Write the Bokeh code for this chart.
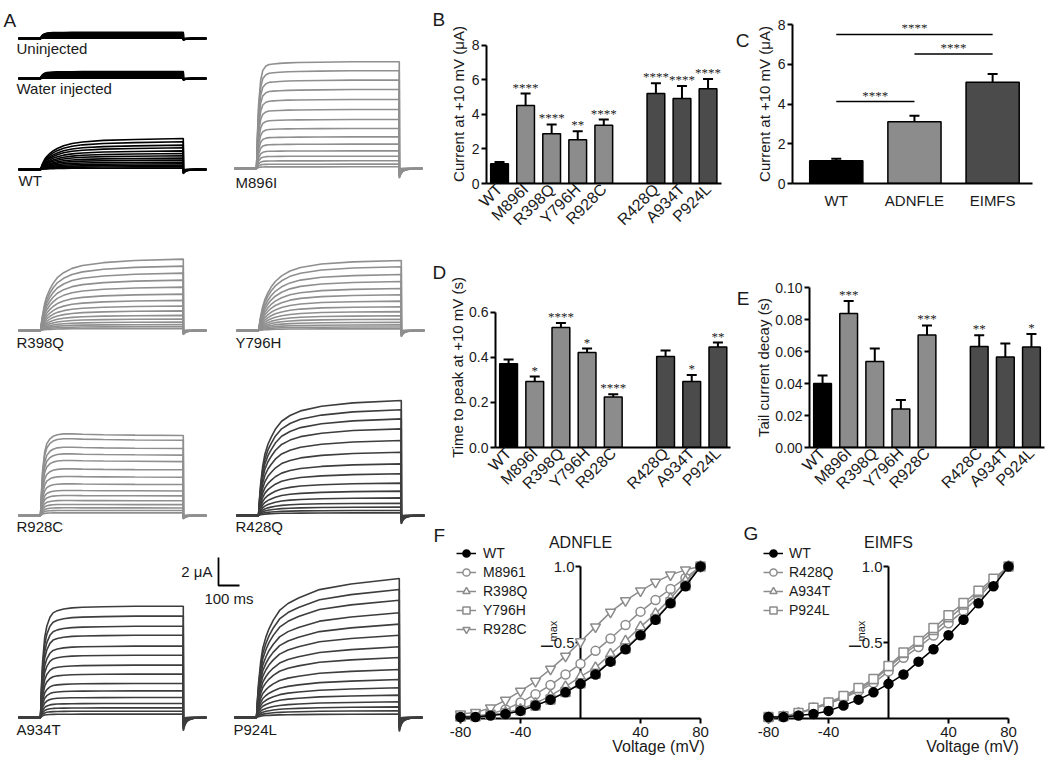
import math
from bokeh.plotting import figure
from bokeh.layouts import row, column
from bokeh.models import (Range1d, FixedTicker, PrintfTickFormatter, Whisker, TeeHead,
                          LabelSet, ColumnDataSource, Legend, LegendItem)
from bokeh.core.properties import value
from bokeh.embed import file_html
from bokeh.resources import INLINE

FONT = "Liberation Sans"

# ------------------------------------------------------------------ data
# Panel A: voltage-clamp current families
act_t_ms = [0, 5, 10, 20, 30, 45, 60, 80, 110, 150, 200, 300, 450, 680]
tail_t_ms = [0, 3, 8, 15, 25, 40, 60, 110]
tail_shape = [1.0, 0.8, 0.55, 0.35, 0.2, 0.1, 0.04, 0.0]

act_uninj = [0, 0.35, 0.55, 0.75, 0.85, 0.9, 0.93, 0.95, 0.96, 0.97, 0.98, 0.99, 1.0, 1.0]
act_water = [0, 0.35, 0.55, 0.75, 0.85, 0.9, 0.93, 0.95, 0.96, 0.97, 0.98, 0.99, 1.0, 1.0]
act_WT = [0, 0.10, 0.19, 0.33, 0.42, 0.52, 0.60, 0.68, 0.77, 0.84, 0.89, 0.94, 0.97, 1.0]
act_M896I = [0, 0.35, 0.60, 0.83, 0.92, 0.96, 0.975, 0.98, 0.985, 0.99, 0.993, 0.996, 1.0, 1.0]
act_R398Q = [0, 0.12, 0.22, 0.38, 0.48, 0.58, 0.66, 0.74, 0.81, 0.87, 0.91, 0.95, 0.98, 1.0]
act_Y796H = [0, 0.10, 0.20, 0.34, 0.44, 0.54, 0.62, 0.70, 0.78, 0.85, 0.90, 0.95, 0.98, 1.0]
act_R928C = [0, 0.30, 0.55, 0.78, 0.88, 0.94, 0.97, 0.99, 1.0, 1.0, 0.995, 0.99, 0.985, 0.98]
act_R428Q = [0, 0.15, 0.27, 0.43, 0.53, 0.62, 0.68, 0.75, 0.82, 0.87, 0.91, 0.95, 0.98, 1.0]
act_A934T = [0, 0.30, 0.50, 0.72, 0.82, 0.90, 0.94, 0.96, 0.975, 0.985, 0.99, 0.995, 1.0, 1.0]
act_P924L = [0, 0.14, 0.25, 0.40, 0.50, 0.58, 0.64, 0.70, 0.77, 0.82, 0.86, 0.92, 0.96, 1.0]

sw_uninj = [0.45, 0.41, 0.37, 0.33, 0.29, 0.25, 0.21, 0.17, 0.13, 0.09, 0.06, 0.03]
sw_water = [0.50, 0.46, 0.41, 0.37, 0.32, 0.28, 0.23, 0.19, 0.14, 0.10, 0.06, 0.03]
sw_WT = [2.21, 1.98, 1.74, 1.55, 1.33, 1.14, 0.98, 0.81, 0.67, 0.52, 0.40, 0.29, 0.19, 0.10]
sw_M896I = [7.62, 6.98, 6.31, 5.64, 4.93, 4.21, 3.50, 2.86, 2.26, 1.74, 1.26, 0.88, 0.55, 0.31, 0.12]
sw_R398Q = [5.1, 4.6, 4.1, 3.6, 3.1, 2.6, 2.15, 1.75, 1.4, 1.08, 0.82, 0.6, 0.42, 0.27, 0.14]
sw_Y796H = [5.0, 4.55, 4.0, 3.5, 3.0, 2.55, 2.1, 1.7, 1.35, 1.05, 0.8, 0.58, 0.4, 0.25, 0.12]
sw_R928C = [5.83, 5.48, 4.88, 4.40, 3.93, 3.33, 2.79, 2.26, 1.79, 1.43, 1.07, 0.79, 0.55, 0.36, 0.19]
sw_R428Q = [8.21, 7.55, 6.90, 6.19, 5.36, 4.52, 3.69, 2.98, 2.31, 1.74, 1.26, 0.88, 0.60, 0.36, 0.19]
sw_A934T = [7.95, 7.24, 6.52, 5.88, 5.10, 4.45, 3.74, 3.10, 2.43, 1.90, 1.43, 1.00, 0.69, 0.45, 0.24]
sw_P924L = [9.93, 9.14, 8.38, 7.48, 6.67, 5.88, 5.05, 4.29, 3.43, 2.71, 2.12, 1.60, 1.12, 0.76, 0.48, 0.24]

trace_names = ["Uninjected", "Water injected", "WT", "M896I", "R398Q", "Y796H",
               "R928C", "R428Q", "A934T", "P924L"]
trace_tail_uA = [0.12, 0.12, 0.3, 0.7, 0.3, 0.45, 0.25, 0.6, 0.95, 1.0]
trace_group = ["none", "none", "WT", "ADNFLE", "ADNFLE", "ADNFLE", "ADNFLE", "EIMFS", "EIMFS", "EIMFS"]
trace_act = [act_uninj, act_water, act_WT, act_M896I, act_R398Q, act_Y796H,
             act_R928C, act_R428Q, act_A934T, act_P924L]
trace_sweeps = [sw_uninj, sw_water, sw_WT, sw_M896I, sw_R398Q, sw_Y796H,
                sw_R928C, sw_R428Q, sw_A934T, sw_P924L]
scale_bar_uA = 2
scale_bar_ms = 100

# Panels B, D, E
mut_names = ["WT", "M896I", "R398Q", "Y796H", "R928C", "R428Q", "A934T", "P924L"]
mut_names_E = ["WT", "M896I", "R398Q", "Y796H", "R928C", "R428C", "A934T", "P924L"]
mut_group = ["WT", "ADNFLE", "ADNFLE", "ADNFLE", "ADNFLE", "EIMFS", "EIMFS", "EIMFS"]

B_mean = [1.15, 4.51, 2.88, 2.53, 3.38, 5.21, 4.92, 5.48]
B_sem = [0.10, 0.70, 0.54, 0.50, 0.32, 0.60, 0.72, 0.57]
B_sig = ["", "****", "****", "**", "****", "****", "****", "****"]

D_mean = [0.371, 0.292, 0.532, 0.421, 0.224, 0.403, 0.292, 0.445]
D_sem = [0.019, 0.022, 0.019, 0.017, 0.012, 0.027, 0.029, 0.020]
D_sig = ["", "*", "****", "*", "****", "", "*", "**"]

E_mean = [0.0400, 0.0837, 0.0538, 0.0240, 0.0703, 0.0632, 0.0565, 0.0628]
E_sem = [0.0050, 0.0079, 0.0080, 0.0057, 0.0060, 0.0070, 0.0085, 0.0082]
E_sig = ["", "***", "", "", "***", "**", "", "*"]

# Panel C
C_names = ["WT", "ADNFLE", "EIMFS"]
C_mean = [1.15, 3.11, 5.09]
C_sem = [0.10, 0.30, 0.42]
C_comp_a = [0, 1, 0]
C_comp_b = [1, 2, 2]
C_comp_y = [4.12, 6.52, 7.50]
C_comp_sig = ["****", "****", "****"]

# Panels F, G (normalised I-V)
V_mV = [-80, -70, -60, -50, -40, -30, -20, -10, 0, 10, 20, 30, 40, 50, 60, 70, 80]
iv_WT = [0.01, 0.01, 0.02, 0.03, 0.05, 0.085, 0.124, 0.172, 0.228, 0.29, 0.374, 0.456, 0.548, 0.65, 0.758, 0.87, 1.0]
iv_M896I = [0.01, 0.015, 0.03, 0.06, 0.105, 0.16, 0.22, 0.29, 0.36, 0.445, 0.526, 0.615, 0.703, 0.78, 0.852, 0.925, 1.0]
iv_R398Q = [0.005, 0.01, 0.02, 0.04, 0.06, 0.10, 0.15, 0.21, 0.275, 0.335, 0.423, 0.51, 0.603, 0.69, 0.79, 0.905, 1.0]
iv_Y796H = [0.015, 0.015, 0.025, 0.035, 0.055, 0.085, 0.125, 0.175, 0.232, 0.295, 0.38, 0.46, 0.555, 0.655, 0.765, 0.875, 1.0]
iv_R928C = [0.03, 0.04, 0.07, 0.12, 0.18, 0.245, 0.325, 0.41, 0.505, 0.603, 0.70, 0.775, 0.84, 0.897, 0.945, 0.978, 1.0]
iv_R428Q = [0.005, 0.01, 0.035, 0.064, 0.097, 0.134, 0.18, 0.233, 0.31, 0.40, 0.47, 0.546, 0.627, 0.708, 0.798, 0.9, 1.0]
iv_A934T = [0.005, 0.012, 0.035, 0.066, 0.10, 0.14, 0.19, 0.25, 0.335, 0.42, 0.495, 0.572, 0.655, 0.74, 0.82, 0.91, 1.0]
iv_P924L = [0.01, 0.015, 0.037, 0.07, 0.105, 0.148, 0.2, 0.26, 0.345, 0.435, 0.51, 0.595, 0.68, 0.76, 0.84, 0.92, 1.0]

F_labels = ["WT", "M8961", "R398Q", "Y796H", "R928C"]
F_series = [iv_WT, iv_M896I, iv_R398Q, iv_Y796H, iv_R928C]
F_markers = ["circle", "circle", "triangle", "square", "inverted_triangle"]
G_labels = ["WT", "R428Q", "A934T", "P924L"]
G_series = [iv_WT, iv_R428Q, iv_A934T, iv_P924L]
G_markers = ["circle", "circle", "triangle", "square"]
iv_xticks = [-80, -40, 40, 80]
iv_yticks = [0.5, 1.0]

# ------------------------------------------------------------------ styles
GROUP_FILL = {"WT": "#000000", "ADNFLE": "#8c8c8c", "EIMFS": "#4b4b4b"}
TRACE_COL = {"none": "#000000", "WT": "#000000", "ADNFLE": "#8f8f8f", "EIMFS": "#3d3d3d"}
IV_GRAY = "#8c8c8c"
TXT = "#1a1a1a"
PAGE_W, PAGE_H = 1046, 760

# ------------------------------------------------------------------ panel A
A_W, A_H = 446, PAGE_H
PX_PER_MS = 21 / 100.0
PX_PER_UA = 28 / 2.0
T_PRE, T_STEP = 105, 680
# step onset x, baseline y, label x, label y (page pixels)
A_layout = {
    "Uninjected": (40, 38, 16, 48), "Water injected": (40, 78, 16, 88),
    "WT": (40, 169, 18, 180), "M896I": (256, 168, 235, 182),
    "R398Q": (40, 330, 16, 342), "Y796H": (258, 330, 235, 342),
    "R928C": (40, 515, 16, 526), "R428Q": (258, 515, 235, 526),
    "A934T": (40, 717, 16, 729), "P924L": (256, 717, 233, 729),
}


def ax_x(sx):
    return sx / PX_PER_MS


def ax_y(sy):
    return (A_H - sy) / PX_PER_UA


pA = figure(width=A_W, height=A_H, x_range=Range1d(0, A_W / PX_PER_MS),
            y_range=Range1d(0, A_H / PX_PER_UA), x_axis_type=None, y_axis_type=None,
            output_backend="svg", toolbar_location=None, min_border=0,
            outline_line_color=None)

for name, tail, grp, shape, sweeps in zip(trace_names, trace_tail_uA, trace_group,
                                          trace_act, trace_sweeps):
    sx, sy, lx, ly = A_layout[name]
    x0, y0 = ax_x(sx), ax_y(sy)
    amax = max(sweeps)
    xs, ys = [], []
    for a in sweeps:
        xr = [-T_PRE, 0] + act_t_ms + [T_STEP + t for t in tail_t_ms]
        yr = [0, 0] + [a * f for f in shape] + [-tail * a / amax * s for s in tail_shape]
        xs.append([x0 + v for v in xr])
        ys.append([y0 + v for v in yr])
    pA.multi_line(xs, ys, line_color=TRACE_COL[grp], line_width=1.6)
    pA.text(x=[ax_x(lx)], y=[ax_y(ly)], text=[name], text_font=value(FONT),
            text_font_size="15px", text_baseline="middle", text_align="left", text_color=TXT)

sb_x, sb_y = ax_x(218), ax_y(585)
pA.line([sb_x, sb_x, sb_x + scale_bar_ms], [sb_y + scale_bar_uA, sb_y, sb_y],
        line_color="black", line_width=1.8)
pA.text(x=[sb_x], y=[sb_y + scale_bar_uA / 2], text=[f"{scale_bar_uA} μA"], x_offset=-6,
        text_font=value(FONT), text_font_size="15px", text_align="right",
        text_baseline="middle", text_color=TXT)
pA.text(x=[sb_x + scale_bar_ms / 2], y=[sb_y], text=[f"{scale_bar_ms} ms"], y_offset=13,
        text_font=value(FONT), text_font_size="15px", text_align="center",
        text_baseline="middle", text_color=TXT)
# panel letters that sit in this figure's area (page pixels: x, baseline y)
for letter, lx, ly in [("A", 3, 20), ("B", 432, 19), ("D", 432, 272), ("F", 433, 535)]:
    pA.text(x=[ax_x(lx)], y=[ax_y(ly)], text=[letter], text_font=value(FONT),
            text_font_size="19px", text_baseline="alphabetic", text_color=TXT)


# ------------------------------------------------------------------ bar panels
def style_axes(p, ylabel, yticks, yfmt, label_standoff):
    p.xgrid.visible = False
    p.ygrid.visible = False
    for ax in (p.xaxis[0], p.yaxis[0]):
        ax.axis_line_width = 2
        ax.axis_line_color = "black"
        ax.major_tick_line_width = 2
        ax.major_tick_line_color = "black"
        ax.major_tick_in = 0
        ax.major_tick_out = 5
        ax.minor_tick_line_color = None
        ax.major_label_text_font = FONT
        ax.major_label_text_font_size = "14px"
        ax.major_label_text_color = TXT
        ax.axis_label_text_font = FONT
        ax.axis_label_text_font_size = "15px"
        ax.axis_label_text_font_style = "normal"
        ax.axis_label_text_color = TXT
    p.yaxis.axis_label = ylabel
    p.yaxis.ticker = FixedTicker(ticks=yticks)
    if yfmt:
        p.yaxis.formatter = PrintfTickFormatter(format=yfmt)
    p.yaxis.major_label_standoff = 2
    p.yaxis.axis_label_standoff = label_standoff
    p.xaxis.major_tick_line_color = None
    p.xaxis.major_tick_out = 0


def bar_panel(fig_box, frame_box, axis_px, x_span, y_end, names, groups, mean, sem, sig,
              ylabel, yticks, yfmt, extra_letters=(), rotated=True, gap=True, width=0.68,
              label_standoff=2):
    """fig_box=(left, top, w, h); frame_box=(left, top, right, bottom) in page px;
    axis_px=(x-axis right end px, y-axis top end px)."""
    fx, fy, fw, fh = fig_box
    fl, ft, fr, fb = frame_box
    ar, at = axis_px
    x_lo, x_hi = x_span
    kx = (ar - fl) / (x_hi - x_lo)
    ky = (fb - at) / y_end
    p = figure(width=fw, height=fh,
               x_range=Range1d(x_lo, x_lo + (fr - fl) / kx),
               y_range=Range1d(0, (fb - ft) / ky),
               output_backend="svg", toolbar_location=None,
               min_border_left=fl - fx, min_border_right=fx + fw - fr,
               min_border_top=ft - fy, min_border_bottom=fy + fh - fb,
               outline_line_color=None)
    if gap:
        pos = [i + (1 if g == "EIMFS" else 0) for i, g in enumerate(groups)]
    else:
        pos = list(range(len(names)))
    src = ColumnDataSource(dict(x=pos, top=mean, upper=[m + s for m, s in zip(mean, sem)],
                                sig=sig, color=[GROUP_FILL[g] for g in groups]))
    p.vbar(x="x", top="top", width=width, source=src, fill_color="color",
           line_color="black", line_width=1.5)
    p.add_layout(Whisker(base="x", upper="upper", lower="top", source=src, dimension="height",
                         line_width=2, line_color="black",
                         upper_head=TeeHead(size=10, line_width=2, line_color="black"),
                         lower_head=None))
    p.add_layout(LabelSet(x="x", y="upper", text="sig", source=src, text_align="center",
                          text_baseline="alphabetic", y_offset=2, text_font=FONT,
                          text_font_size="13px", text_color=TXT))
    style_axes(p, ylabel, yticks, yfmt, label_standoff)
    p.yaxis.bounds = (0, y_end)
    p.xaxis.bounds = (x_lo, x_hi)
    p.xaxis.ticker = FixedTicker(ticks=pos)
    p.xaxis.major_label_overrides = {x: n for x, n in zip(pos, names)}
    if rotated:
        p.xaxis.major_label_orientation = math.pi / 4
        p.xaxis.major_label_standoff = 3
        p.xaxis.major_label_text_font_size = "16px"
    else:
        p.xaxis.major_label_text_font_size = "15px"
        p.xaxis.major_label_standoff = 8
    for letter, lx, ly in extra_letters:
        p.text(x=[x_lo + (lx - fl) / kx], y=[(fb - ly) / ky], text=[letter],
               text_font=value(FONT), text_font_size="19px", text_baseline="alphabetic",
               text_align="left", text_color=TXT)
    return p, pos


pB, _ = bar_panel((446, 0, 306, 258), (481, 0, 751, 183), (720, 24), (-0.5, 8.5), 8,
                  mut_names, mut_group, B_mean, B_sem, B_sig, "Current at +10 mV (μA)",
                  [0, 2, 4, 6, 8], None, extra_letters=[("C", 735, 18)])
pC, c_pos = bar_panel((752, 0, 294, 258), (787, 24, 1032, 183), (1032, 24), (-0.56, 2.51), 8,
                      C_names, C_names, C_mean, C_sem, ["", "", ""], "Current at +10 mV (μA)",
                      [0, 2, 4, 6, 8], None, rotated=False, gap=False)
cmp_src = ColumnDataSource(dict(x0=[c_pos[a] for a in C_comp_a], x1=[c_pos[b] for b in C_comp_b],
                                y=C_comp_y,
                                xm=[(c_pos[a] + c_pos[b]) / 2 for a, b in zip(C_comp_a, C_comp_b)],
                                sig=C_comp_sig))
pC.segment(x0="x0", y0="y", x1="x1", y1="y", source=cmp_src, line_color="black", line_width=1.5)
pC.add_layout(LabelSet(x="xm", y="y", text="sig", source=cmp_src, text_align="center",
                       text_baseline="alphabetic", y_offset=2, text_font=FONT,
                       text_font_size="13px", text_color=TXT))

pD, _ = bar_panel((446, 258, 306, 255), (489, 258, 751, 447), (730, 287), (-0.5, 8.5), 0.6,
                  mut_names, mut_group, D_mean, D_sem, D_sig, "Time to peak at +10 mV (s)",
                  [0, 0.2, 0.4, 0.6], "%.1f", extra_letters=[("E", 736, 271)],
                  label_standoff=0)
pE, _ = bar_panel((752, 258, 294, 255), (807, 287, 1044, 447), (1044, 287), (-0.5, 8.5), 0.10,
                  mut_names_E, mut_group, E_mean, E_sem, E_sig, "Tail current decay (s)",
                  [0, 0.02, 0.04, 0.06, 0.08, 0.10], "%.2f", label_standoff=0)

# ------------------------------------------------------------------ I-V panels
ROW3_TOP, ROW3_BOTTOM = 513, PAGE_H
IV_ZERO_Y = 718
PX_PER_MV = 1.5
PX_PER_UNIT = 152.0


def iv_panel(fig_left, fig_w, zero_x, labels, series, markers, title, letter, vlabel_x,
             legend_x, legend_standoff):
    p = figure(width=fig_w, height=ROW3_BOTTOM - ROW3_TOP,
               x_range=Range1d((fig_left - zero_x) / PX_PER_MV,
                               (fig_left + fig_w - zero_x) / PX_PER_MV),
               y_range=Range1d((IV_ZERO_Y - ROW3_BOTTOM) / PX_PER_UNIT,
                               (IV_ZERO_Y - ROW3_TOP) / PX_PER_UNIT),
               x_axis_type=None, y_axis_type=None, output_backend="svg",
               toolbar_location=None, min_border=0, outline_line_color=None)
    tick_y = 5 / PX_PER_UNIT
    tick_x = 5 / PX_PER_MV
    # axes drawn through the origin
    p.segment(x0=[V_mV[0] - 1, 0], y0=[0, 0], x1=[V_mV[-1], 0], y1=[0, max(iv_yticks)],
              line_color="black", line_width=2)
    p.segment(x0=iv_xticks, y0=[0] * len(iv_xticks), x1=iv_xticks,
              y1=[-tick_y] * len(iv_xticks), line_color="black", line_width=2)
    p.segment(x0=[0] * len(iv_yticks), y0=iv_yticks, x1=[-tick_x] * len(iv_yticks),
              y1=iv_yticks, line_color="black", line_width=2)
    p.text(x=iv_xticks, y=[0] * len(iv_xticks), text=[f"{t:d}" for t in iv_xticks],
           y_offset=8, text_align="center", text_baseline="top", text_font=value(FONT),
           text_font_size="15px", text_color=TXT)
    p.text(x=[0] * len(iv_yticks), y=iv_yticks, text=[f"{t:.1f}" for t in iv_yticks],
           x_offset=-6, text_align="right", text_baseline="middle", text_font=value(FONT),
           text_font_size="15px", text_color=TXT)
    p.text(x=[0], y=[0.5], text=["I"], x_offset=-33, y_offset=6, angle=math.pi / 2,
           text_align="left", text_baseline="alphabetic", text_font=value(FONT),
           text_font_size="16px", text_color=TXT)
    p.text(x=[0], y=[0.5], text=["max"], x_offset=-28, y_offset=-1, angle=math.pi / 2,
           text_align="left", text_baseline="alphabetic", text_font=value(FONT),
           text_font_size="11px", text_color=TXT)
    p.text(x=[vlabel_x], y=[0], text=["Voltage (mV)"], y_offset=28, text_align="center",
           text_baseline="middle", text_font=value(FONT), text_font_size="16px",
           text_color=TXT)
    p.text(x=[0], y=[max(iv_yticks)], text=[title], y_offset=-24, text_align="center",
           text_baseline="middle", text_font=value(FONT), text_font_size="16px",
           text_color=TXT)
    if letter is not None:
        p.text(x=[(letter[1] - zero_x) / PX_PER_MV], y=[(IV_ZERO_Y - letter[2]) / PX_PER_UNIT],
               text=[letter[0]], text_align="left", text_baseline="alphabetic",
               text_font=value(FONT), text_font_size="19px", text_color=TXT)

    rends = {}
    order = list(range(1, len(series))) + [0]
    for i in order:
        col = "black" if i == 0 else IV_GRAY
        fill = "black" if i == 0 else "white"
        size = 10 if "triangle" in markers[i] else 9
        lr = p.line(V_mV, series[i], line_color=col, line_width=1.5)
        sr = p.scatter(V_mV, series[i], marker=markers[i], size=size, fill_color=fill,
                       line_color=col, line_width=1.5)
        rends[i] = (lr, sr)
    n = len(series)
    gh, sp = 18, 1
    leg_h = n * gh + (n - 1) * sp
    leg_top = 544
    legend = Legend(items=[LegendItem(label=labels[i], renderers=list(rends[i])) for i in range(n)],
                    location=(legend_x - fig_left, ROW3_BOTTOM - (leg_top + leg_h)),
                    orientation="vertical", border_line_color=None, background_fill_alpha=0,
                    padding=0, margin=0, spacing=sp, glyph_height=gh, glyph_width=20,
                    label_height=gh, label_standoff=legend_standoff, label_text_font=FONT,
                    label_text_font_size="14px", label_text_color=TXT)
    p.add_layout(legend)
    return p


pF = iv_panel(446, 277, 580, F_labels, F_series, F_markers, "ADNFLE", None, 52, 456, 7)
pG = iv_panel(723, 323, 888, G_labels, G_series, G_markers, "EIMFS", ("G", 743, 533), 56,
              763, 6)

layout = row(pA, column(row(pB, pC), row(pD, pE), row(pF, pG)))
open("out.html", "w").write(file_html(layout, INLINE, title="KCNT1 variants"))
